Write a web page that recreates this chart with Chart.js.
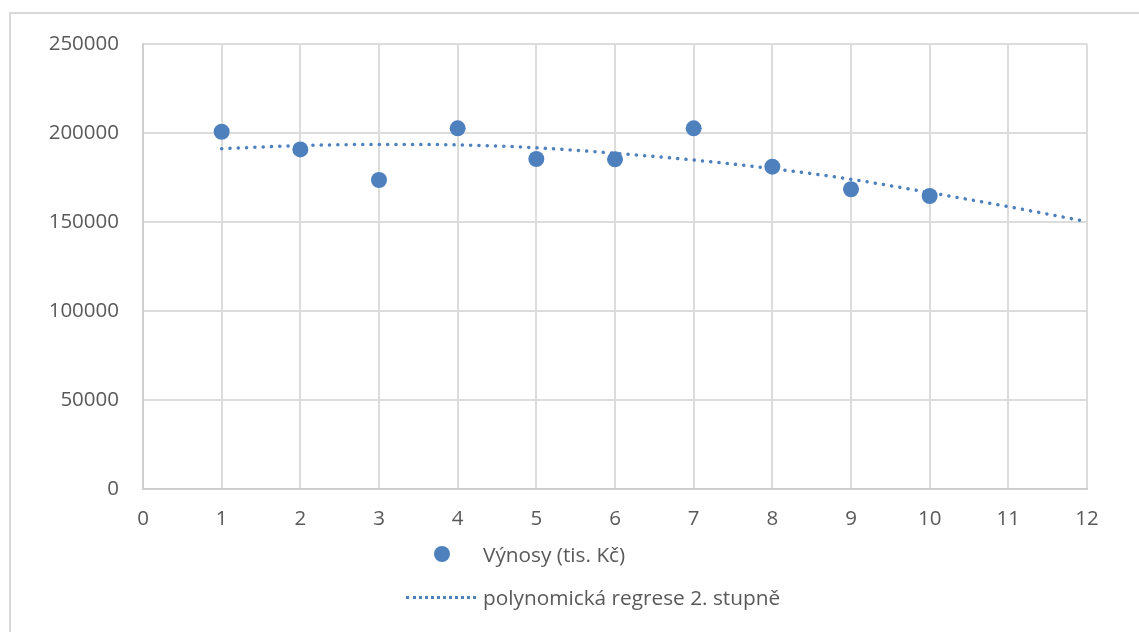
<!DOCTYPE html>
<html>
<head>
<meta charset="utf-8">
<script src="https://cdn.jsdelivr.net/npm/chart.js@4"></script>
<style>
  html, body { margin: 0; padding: 0; background: #fff; }
  #wrap { position: relative; width: 1139px; height: 632px; overflow: hidden; }
  #frame { position: absolute; left: 9px; top: 12px; width: 1200px; height: 700px;
           border-left: 2px solid #d9d9d9; border-top: 2px solid #d9d9d9; }
  #chart { position: absolute; left: 0; top: 0; }
  .legend { position: absolute; font-family: "Open Sans", Lato, sans-serif; font-size: 20.8px;
            color: #595959; white-space: nowrap; }
  .legend .row { position: absolute; left: 0; height: 24px; line-height: 24px; }
</style>
</head>
<body>
<div id="wrap">
  <div id="frame"></div>
  <canvas id="chart" width="1139" height="632"></canvas>
  <div class="legend" id="legend"></div>
</div>
<script>
// Data ----------------------------------------------
const obdobi = [1, 2, 3, 4, 5, 6, 7, 8, 9, 10];
const vynosy = [200700, 190800, 173600, 202600, 185400, 185200, 202600, 181100, 168400, 164600];

const trendX = [1, 2, 3, 4, 5, 6, 7, 8, 9, 10, 11, 12];
const trendY = [191200, 192900, 193600, 193300, 191700, 188600, 184800, 180000, 174000, 166500, 158600, 150200];

const seriesLabels = ["Výnosy (tis. Kč)", "polynomická regrese 2. stupně"];
const blue = "#4e80bd";
const font = "'Open Sans', Lato, sans-serif";

// Chart ---------------------------------------------
new Chart(document.getElementById("chart"), {
  type: "scatter",
  data: {
    datasets: [
      {
        label: seriesLabels[0],
        data: obdobi.map((x, i) => ({ x: x, y: vynosy[i] })),
        backgroundColor: blue,
        borderColor: blue,
        pointRadius: 8,
        pointHoverRadius: 8,
        borderWidth: 0,
        order: 1,
      },
      {
        label: seriesLabels[1],
        data: trendX.map((x, i) => ({ x: x, y: trendY[i] })),
        showLine: true,
        borderColor: blue,
        borderWidth: 3.5,
        borderDash: [0.1, 8.2],
        borderCapStyle: "round",
        cubicInterpolationMode: "monotone",
        pointRadius: 0,
        order: 2,
      },
    ],
  },
  options: {
    responsive: false,
    animation: false,
    layout: { padding: { left: 0, top: 44, right: 52, bottom: 0 } },
    plugins: { legend: { display: false }, tooltip: { enabled: false } },
    scales: {
      x: {
        type: "linear",
        min: 0,
        max: 12,
        ticks: { stepSize: 1, padding: 18, color: "#595959", font: { family: font, size: 20.5 },
                 callback: (v) => String(v) },
        grid: { color: "#dcdcdc", lineWidth: 2, drawTicks: false },
        border: { color: "#cfcfcf", width: 2 },
        afterFit: (s) => { s.height = 632 - 489; },
      },
      y: {
        min: 0,
        max: 250000,
        ticks: { stepSize: 50000, padding: 24, color: "#595959", font: { family: font, size: 20.5 },
                 callback: (v) => String(v) },
        grid: { color: "#dcdcdc", lineWidth: 2, drawTicks: false },
        border: { color: "#cfcfcf", width: 2 },
        afterFit: (s) => { s.width = 143; },
      },
    },
  },
});

// Legend ---------------------------------------------
const legend = document.getElementById("legend");
legend.innerHTML =
  '<div class="row" style="left:434px;top:542px;">' +
  '<span style="position:absolute;left:0;top:4px;width:16px;height:16px;border-radius:50%;background:' + blue + ';"></span>' +
  '<span style="position:absolute;left:49px;">' + seriesLabels[0] + '</span></div>' +
  '<div class="row" style="left:406px;top:585px;">' +
  '<span style="position:absolute;left:0;top:11px;width:70px;height:0;border-top:3px dotted ' + blue + ';"></span>' +
  '<span style="position:absolute;left:77px;">' + seriesLabels[1] + '</span></div>';
</script>
</body>
</html>
